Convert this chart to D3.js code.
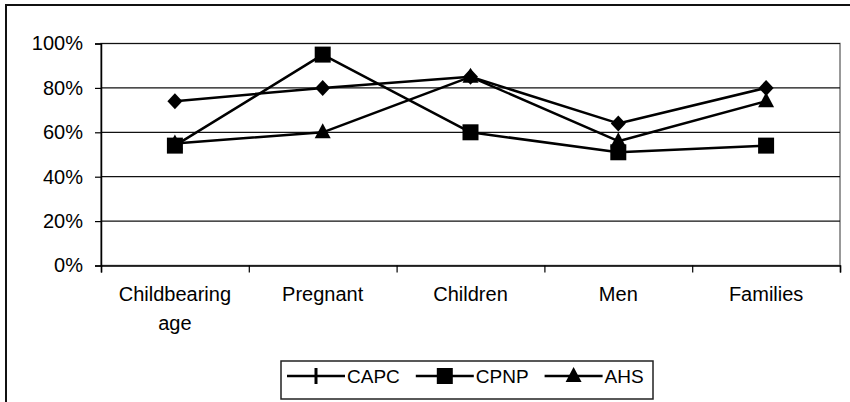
<!DOCTYPE html>
<html>
<head>
<meta charset="utf-8">
<script src="https://cdn.jsdelivr.net/npm/d3@7"></script>
<style>
  body { margin: 0; background: #fff; }
  svg { display: block; font-family: Arial, "Liberation Sans", sans-serif; }
</style>
</head>
<body>
<svg id="chart" width="850" height="402"></svg>
<script>
// Reach of each program across target groups (share of sites)
const categories = ["Childbearing age", "Pregnant", "Children", "Men", "Families"];
const seriesNames = ["CAPC", "CPNP", "AHS"];
const capc = [0.74, 0.80, 0.85, 0.64, 0.80];
const cpnp = [0.54, 0.95, 0.60, 0.51, 0.54];
const ahs  = [0.55, 0.60, 0.85, 0.56, 0.74];
const yTicks = [0, 0.2, 0.4, 0.6, 0.8, 1.0];

const seriesValues = [capc, cpnp, ahs];
const markerKinds = ["diamond", "square", "triangle"];

const svg = d3.select("#chart");

// outer chart frame (runs off the right and bottom edges)
svg.append("rect")
  .attr("x", 6).attr("y", 5).attr("width", 1000).attr("height", 600)
  .attr("fill", "#fff").attr("stroke", "#111").attr("stroke-width", 2);

const plot = { left: 101, right: 840, top: 43.5, bottom: 265.5 };

const x = d3.scaleBand().domain(categories).range([plot.left, plot.right]);
const y = d3.scaleLinear().domain([0, 1]).range([plot.bottom, plot.top]);

// plot area border
svg.append("rect")
  .attr("x", plot.left).attr("y", plot.top)
  .attr("width", plot.right - plot.left).attr("height", plot.bottom - plot.top)
  .attr("fill", "none").attr("stroke", "#777").attr("stroke-width", 1.5);

// horizontal gridlines
svg.append("g").selectAll("line")
  .data(yTicks.filter(d => d > 0))
  .join("line")
  .attr("x1", plot.left).attr("x2", plot.right)
  .attr("y1", d => y(d)).attr("y2", d => y(d))
  .attr("stroke", "#111").attr("stroke-width", 1.2);

// y axis
const yAxis = svg.append("g")
  .attr("transform", `translate(${plot.left},0)`)
  .call(d3.axisLeft(y).tickValues(yTicks).tickFormat(d3.format(".0%"))
    .tickSize(6).tickPadding(12));
yAxis.select(".domain").attr("stroke", "#000").attr("stroke-width", 1.5);
yAxis.selectAll(".tick line").attr("stroke", "#000").attr("stroke-width", 1.2);
yAxis.selectAll(".tick text").attr("font-size", 20).attr("fill", "#000")
  .attr("font-family", "Arial, 'Liberation Sans', sans-serif");

// x axis: tick marks sit on the category boundaries
const xEdges = d3.scaleLinear().domain([0, categories.length]).range([plot.left, plot.right]);
const xTickAxis = svg.append("g")
  .attr("transform", `translate(0,${plot.bottom})`)
  .call(d3.axisBottom(xEdges).ticks(categories.length).tickFormat("").tickSize(7).tickSizeOuter(7));
xTickAxis.select(".domain").attr("stroke", "#000").attr("stroke-width", 1.5);
xTickAxis.selectAll(".tick line").attr("stroke", "#000").attr("stroke-width", 1.2);

// x axis labels, centered in each category, wrapped to the band width
const xLabelAxis = svg.append("g")
  .attr("transform", `translate(0,${plot.bottom})`)
  .call(d3.axisBottom(x).tickSize(0).tickPadding(21));
xLabelAxis.select(".domain").remove();
xLabelAxis.selectAll(".tick text")
  .attr("font-size", 20).attr("fill", "#000")
  .attr("font-family", "Arial, 'Liberation Sans', sans-serif")
  .each(function (d) {
    const t = d3.select(this);
    const words = d.split(" ");
    const yAttr = t.attr("y");
    t.text(null);
    let line = [];
    let ts = t.append("tspan").attr("x", 0).attr("y", yAttr).attr("dy", "0.71em");
    let lineNo = 0;
    words.forEach(w => {
      line.push(w);
      ts.text(line.join(" "));
      if (ts.node().getComputedTextLength() > x.bandwidth() - 4 && line.length > 1) {
        line.pop();
        ts.text(line.join(" "));
        line = [w];
        lineNo++;
        ts = t.append("tspan").attr("x", 0).attr("y", yAttr)
          .attr("dy", `calc(0.71em + ${lineNo * 29}px)`).text(w);
        ts.attr("dy", null).attr("transform", null);
        ts.attr("y", +yAttr + lineNo * 29).attr("dy", "0.71em");
      }
    });
  });

// marker shapes
function markerPath(kind, cx, cy) {
  if (kind === "diamond") {
    const w = 7.5, h = 8;
    return `M${cx},${cy - h}L${cx + w},${cy}L${cx},${cy + h}L${cx - w},${cy}Z`;
  }
  if (kind === "square") {
    const s = 8;
    return `M${cx - s},${cy - s}H${cx + s}V${cy + s}H${cx - s}Z`;
  }
  if (kind === "triangle") {
    const w = 8, top = 9, bot = 6;
    return `M${cx},${cy - top}L${cx + w},${cy + bot}L${cx - w},${cy + bot}Z`;
  }
  if (kind === "tick") {
    return `M${cx - 1.5},${cy - 8}H${cx + 1.5}V${cy + 8}H${cx - 1.5}Z`;
  }
  return "";
}

const line = d3.line()
  .x((d, i) => x(categories[i]) + x.bandwidth() / 2)
  .y(d => y(d));

seriesValues.forEach((vals, si) => {
  const g = svg.append("g").attr("class", "series-" + seriesNames[si]);
  g.append("path")
    .datum(vals)
    .attr("d", line)
    .attr("fill", "none").attr("stroke", "#000").attr("stroke-width", 2.5)
    .attr("stroke-linejoin", "round");
  g.selectAll("path.mk")
    .data(vals)
    .join("path")
    .attr("class", "mk")
    .attr("d", (d, i) => markerPath(markerKinds[si], x(categories[i]) + x.bandwidth() / 2, y(d)))
    .attr("fill", "#000");
});

// legend
const legend = svg.append("g");
const lgBox = { x: 281, y: 361, w: 372, h: 38 };
legend.append("rect")
  .attr("x", lgBox.x).attr("y", lgBox.y).attr("width", lgBox.w).attr("height", lgBox.h)
  .attr("fill", "#fff").attr("stroke", "#222").attr("stroke-width", 1.5);

const legendMarkers = ["tick", "square", "triangle"];
const lineLen = 58, cy = 376;
let cursor = lgBox.x + 6;
seriesNames.forEach((name, i) => {
  const item = legend.append("g");
  item.append("line")
    .attr("x1", cursor).attr("x2", cursor + lineLen)
    .attr("y1", cy).attr("y2", cy)
    .attr("stroke", "#000").attr("stroke-width", 2.5);
  item.append("path")
    .attr("d", markerPath(legendMarkers[i], cursor + lineLen / 2, cy))
    .attr("fill", "#000");
  const txt = item.append("text")
    .attr("x", cursor + lineLen + 2).attr("y", cy).attr("dy", "0.35em")
    .attr("font-size", 19).attr("fill", "#000")
    .text(name);
  cursor += lineLen + 2 + txt.node().getComputedTextLength() + 16;
});
</script>
</body>
</html>
